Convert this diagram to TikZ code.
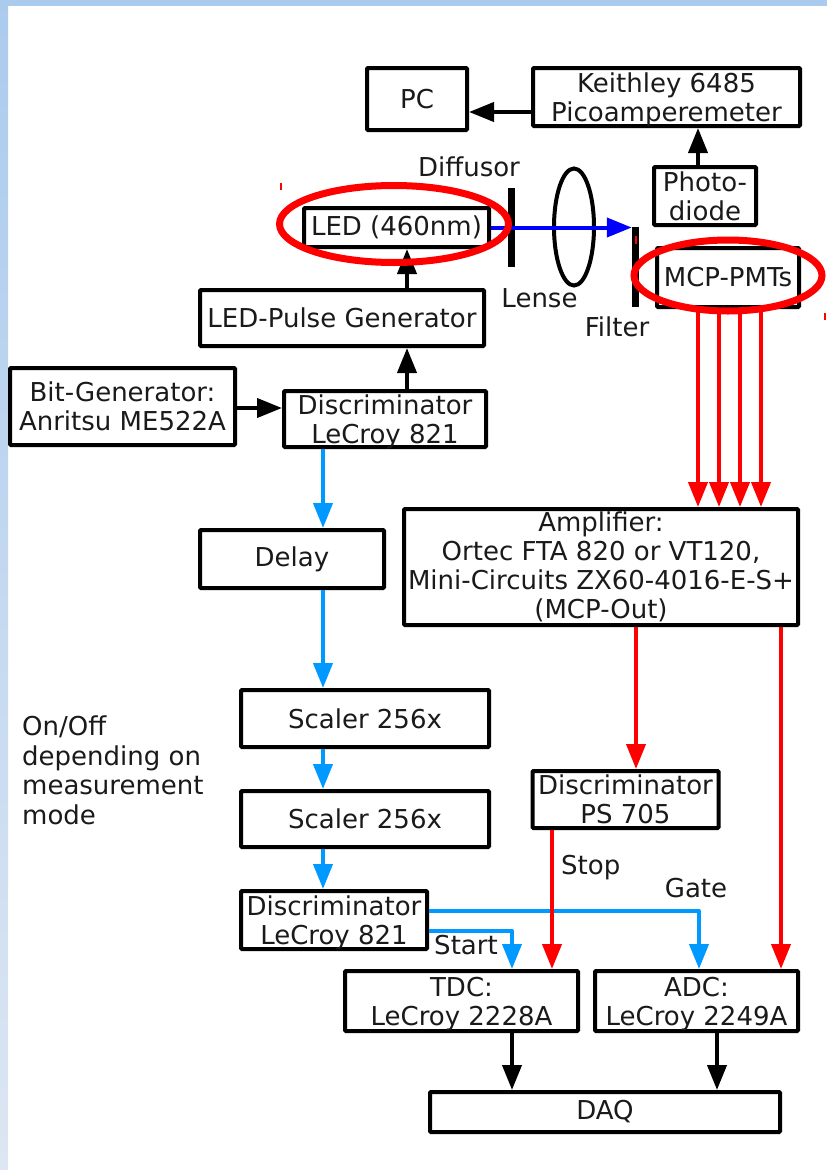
\documentclass[tikz,border=0pt]{standalone}
\usepackage{fontspec}
\setmainfont{DejaVu Sans}
\usetikzlibrary{arrows.meta,shapes.geometric}
\definecolor{lblue}{RGB}{0,153,255}
\definecolor{ledblue}{RGB}{0,0,255}
\definecolor{sigred}{RGB}{255,0,0}
\definecolor{stripeA}{HTML}{ABCBEE}
\definecolor{stripeB}{HTML}{DDE6F2}
\definecolor{ink}{HTML}{1A1A1A}
\newcommand{\lastln}[1]{\raisebox{0pt}[\height][0pt]{#1}}
\begin{document}
\begin{tikzpicture}[x=1pt,y=-1pt,
  font=\fontsize{26}{29}\selectfont,
  box/.style={draw=black, line width=4pt, rounded corners=1pt, inner sep=0pt, align=center, text=ink, fill=white},
  lbl/.style={inner sep=0pt, text=ink},
  arr/.style={draw=black, line width=4pt, -{Triangle[length=25pt,width=19pt]}},
  rarr/.style={draw=sigred, line width=4pt, -{Triangle[length=25pt,width=19pt]}},
  barr/.style={draw=lblue, line width=4pt, line join=round, -{Triangle[length=25pt,width=19pt]}},
  larr/.style={draw=ledblue, line width=4pt, -{Triangle[length=25pt,width=19pt]}},
  bar/.style={fill=black, draw=none, inner sep=0pt, minimum width=7pt},
  ring/.style={draw=sigred, line width=7pt}
]
\useasboundingbox (0,0) rectangle (827,1170);
\fill[white] (0,0) rectangle (827,1170);
\fill[stripeA] (0,0) rectangle (827,6);
\shade[top color=stripeA, bottom color=stripeB] (0,0) rectangle (8,1170);

% boxes
\node[box, minimum width=100pt, minimum height=62pt] (pc) at (417,99) {PC};
\node[box, minimum width=267pt, minimum height=58pt] (kei) at (666.5,97) {Keithley 6485\\\lastln{Picoamperemeter}};
\node[box, minimum width=102pt, minimum height=58pt] (pd) at (705,196) {Photo-\\diode};
\node[box, minimum width=142pt, minimum height=59pt] (mcp) at (728,277.5) {MCP-PMTs};
\node[box, minimum width=185pt, minimum height=39pt] (led) at (396.5,227.5) {LED (460nm)};
\node[box, minimum width=284pt, minimum height=56pt] (lpg) at (342,318) {LED-Pulse Generator};
\node[box, minimum width=225pt, minimum height=77pt] (bit) at (122.5,406.5) {Bit-Generator:\\Anritsu ME522A};
\node[box, minimum width=202pt, minimum height=56pt] (disc1) at (385,419) {Discriminator\\\lastln{LeCroy 821}};
\node[box, minimum width=184pt, minimum height=58pt] (delay) at (292,559) {Delay};
\node[box, minimum width=394pt, minimum height=116pt] (amp) at (601,567) {Amplifier:\\Ortec FTA 820 or VT120,\\Mini-Circuits ZX60-4016-E-S+\\(MCP-Out)};
\node[box, minimum width=248pt, minimum height=57pt] (sc1) at (365,718.5) {Scaler 256x};
\node[box, minimum width=248pt, minimum height=56pt] (sc2) at (365,819) {Scaler 256x};
\node[box, minimum width=186pt, minimum height=57pt] (ps) at (625.5,799.5) {Discriminator\\PS 705};
\node[box, minimum width=186pt, minimum height=58pt] (disc2) at (334,920) {Discriminator\\\lastln{LeCroy 821}};
\node[box, minimum width=233pt, minimum height=60pt] (tdc) at (461.5,1001) {TDC:\\\lastln{LeCroy 2228A}};
\node[box, minimum width=203pt, minimum height=60pt] (adc) at (696.5,1001) {ADC:\\\lastln{LeCroy 2249A}};
\node[box, minimum width=350pt, minimum height=40pt] (daq) at (605,1112) {DAQ};

% optics
\node[bar, minimum height=79pt] (diff) at (511,227.5) {};
\node[bar, minimum height=80pt] (filt) at (635.5,267) {};
\node[ellipse, draw=black, line width=4pt, inner sep=0pt, minimum width=40pt, minimum height=117pt] (lens) at (574,227) {};

% labels
\node[lbl] (tdiff) at (469,167) {Diffusor};
\node[lbl] (tlens) at (539.5,298) {Lense};
\node[lbl] (tfilt) at (617,327) {Filter};
\node[lbl, anchor=west] (tstop) at (561,868) {Stop};
\node[lbl] (tgate) at (696,888) {Gate};
\node[lbl] (tstart) at (466,945) {Start};
\node[lbl, anchor=north west, align=left, font=\fontsize{26}{29.5}\selectfont] (note) at (22,716) {On/Off\\depending on\\measurement\\mode};

% black connectors
\draw[arr] (kei.west |- 0,112) -- (pc.east |- 0,112);
\draw[arr] (pd.north -| 698,0) -- (kei.south -| 698,0);
\draw[arr] (lpg.north -| 407,0) -- (led.south -| 407,0);
\draw[arr] (disc1.north -| 407,0) -- (lpg.south -| 407,0);
\draw[arr] (bit.east |- 0,408) -- (disc1.west |- 0,408);
\draw[arr] (tdc.south -| 512,0) -- (daq.north -| 512,0);
\draw[arr] (adc.south -| 717,0) -- (daq.north -| 717,0);

% light path
\draw[larr] (led.east) -- (filt.west |- led.east);

% blue connectors
\draw[barr] (disc1.south -| 323,0) -- (delay.north -| 323,0);
\draw[barr] (delay.south -| 323,0) -- (sc1.north -| 323,0);
\draw[barr] (sc1.south -| 323,0) -- (sc2.north -| 323,0);
\draw[barr] (sc2.south -| 323,0) -- (disc2.north -| 323,0);
\draw[barr] (disc2.east |- 0,911) -| (adc.north -| 699,0);
\draw[barr] (disc2.east |- 0,931) -| (tdc.north -| 512,0);

% red connectors
\foreach \xx in {698,719,740,761}{
  \draw[rarr] (mcp.south -| \xx,0) -- (amp.north -| \xx,0);
}
\draw[rarr] (amp.south -| 636,0) -- (ps.north -| 636,0);
\draw[rarr] (ps.south -| 552,0) -- (tdc.north -| 552,0);
\draw[rarr] (amp.south -| 781,0) -- (adc.north -| 781,0);

% highlight rings
\draw[ring] (394,224) ellipse [x radius=114.5, y radius=38.5];
\draw[ring] (728,275.5) ellipse [x radius=94, y radius=35.5];
\draw[sigred, line width=1.5pt] (281,183) -- (281,190);
\draw[sigred, line width=1.5pt] (636,236) -- (636,244);
\draw[sigred, line width=1.5pt] (825,313) -- (825,320);
\end{tikzpicture}
\end{document}
